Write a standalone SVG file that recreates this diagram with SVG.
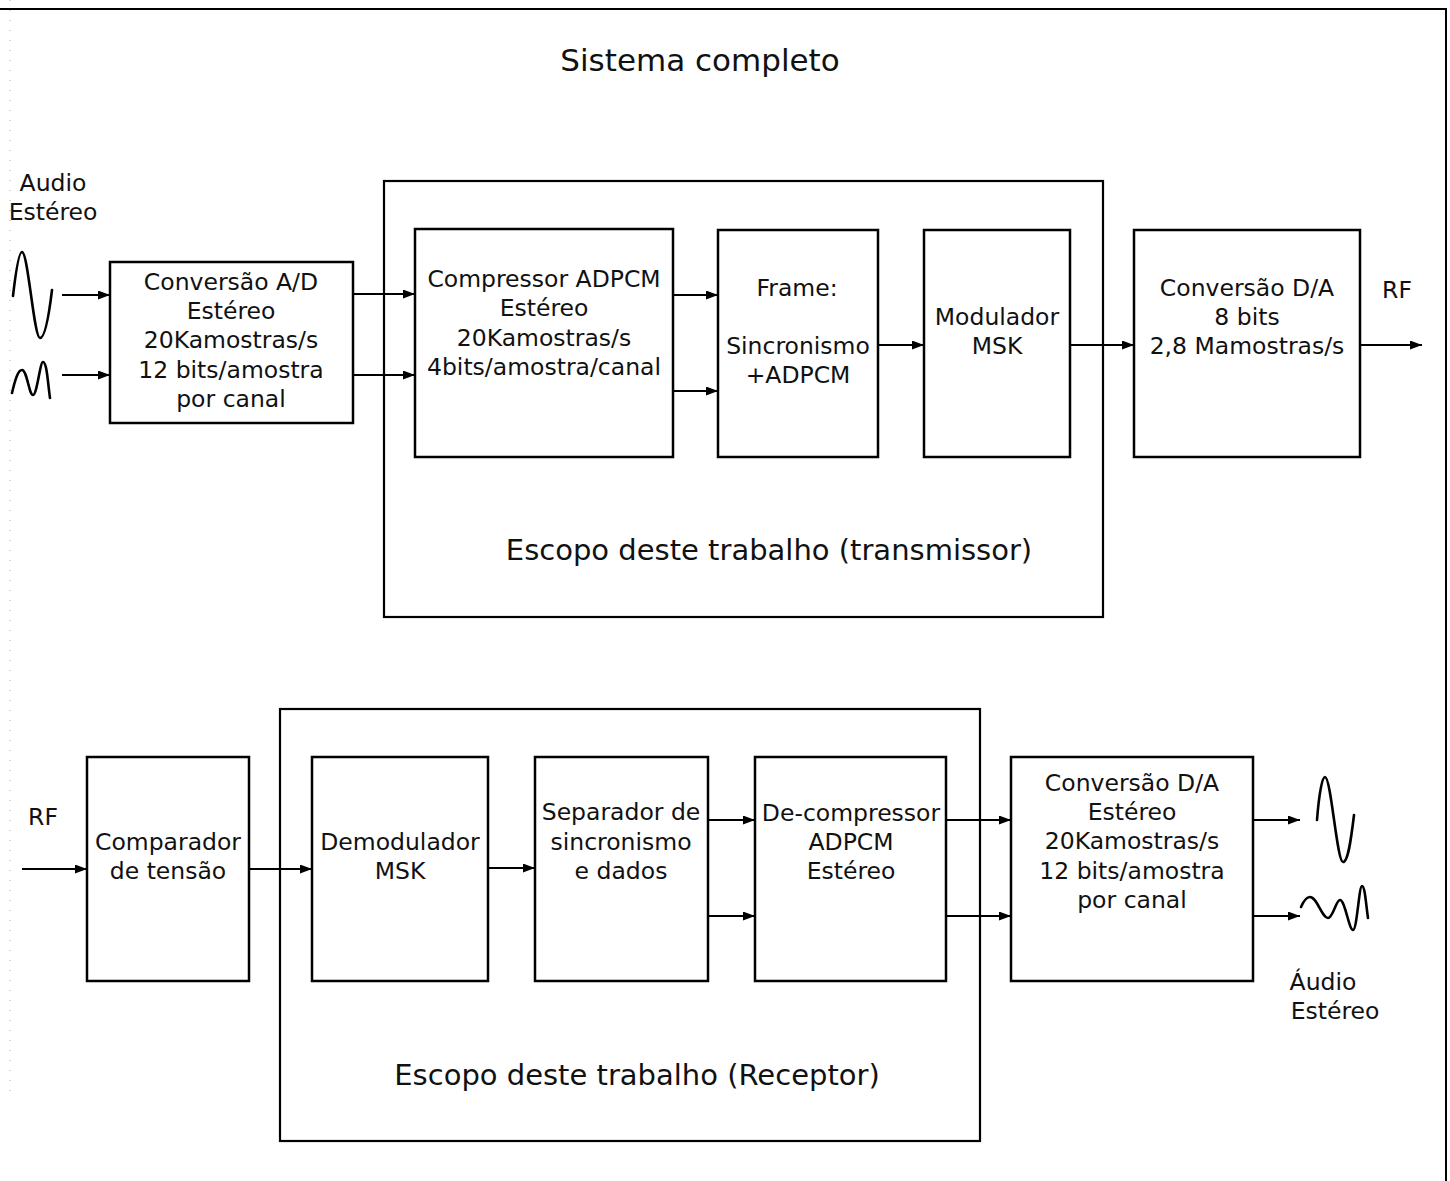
<svg xmlns="http://www.w3.org/2000/svg" width="1450" height="1181" viewBox="0 0 1450 1181">
  <style>
    .box { fill: none; stroke: #000; stroke-width: 2.5; }
    .frame { fill: none; stroke: #000; stroke-width: 2.2; }
    .wire { fill: none; stroke: #000; stroke-width: 2; marker-end: url(#arrow); }
    .wave { fill: none; stroke: #000; stroke-width: 2.6; stroke-linecap: round; stroke-linejoin: round; }
    text { font-family: "DejaVu Sans", Verdana, sans-serif; font-size: 23.5px; fill: #111; text-anchor: middle; }
    .title { font-size: 31px; }
    .scope { font-size: 29px; }
  </style>
  <defs>
    <marker id="arrow" markerUnits="userSpaceOnUse" markerWidth="13" markerHeight="10" refX="12" refY="4.5" orient="auto">
      <path d="M0,0 L12,4.5 L0,9 z" fill="#000"/>
    </marker>
  </defs>

  <rect width="1450" height="1181" fill="#fff"/>

  <!-- outer page frame -->
  <path d="M0,9 L1446,9 L1446,1181" fill="none" stroke="#000" stroke-width="2"/>
  <line x1="10" y1="0" x2="10" y2="1100" stroke="#aaa" stroke-width="1" stroke-dasharray="1,9"/>

  <text class="title" x="700" y="71">Sistema completo</text>

  <!-- ===== transmitter chain ===== -->
  <g id="audio-in">
    <text x="53" y="191">Audio</text>
    <text x="53" y="220">Estéreo</text>
    <path class="wave" d="M13,296 C16,270 19,252 22,252 C28,252 34,338 40,338 C45,338 49,315 52,290"/>
    <path class="wave" d="M12,393 C15,380 18,370 22,370 C27,370 29,395 33,395 C37,395 40,362 43,362 C47,362 48,385 50,398"/>
  </g>

  <g id="ad-converter">
    <rect class="box" x="110" y="262" width="243" height="161"/>
    <text x="231" y="290">Conversão A/D</text>
    <text x="231" y="319">Estéreo</text>
    <text x="231" y="348">20Kamostras/s</text>
    <text x="231" y="378">12 bits/amostra</text>
    <text x="231" y="407">por canal</text>
  </g>

  <g id="scope-tx">
    <rect class="frame" x="384" y="181" width="719" height="436"/>
    <text class="scope" x="769" y="560">Escopo deste trabalho (transmissor)</text>
  </g>

  <g id="adpcm-compressor">
    <rect class="box" x="415" y="229" width="258" height="228"/>
    <text x="544" y="287">Compressor ADPCM</text>
    <text x="544" y="316">Estéreo</text>
    <text x="544" y="346">20Kamostras/s</text>
    <text x="544" y="375">4bits/amostra/canal</text>
  </g>

  <g id="frame-builder">
    <rect class="box" x="718" y="230" width="160" height="227"/>
    <text x="797" y="296">Frame:</text>
    <text x="798" y="354">Sincronismo</text>
    <text x="798" y="383">+ADPCM</text>
  </g>

  <g id="msk-modulator">
    <rect class="box" x="924" y="230" width="146" height="227"/>
    <text x="997" y="325">Modulador</text>
    <text x="997" y="354">MSK</text>
  </g>

  <g id="da-rf">
    <rect class="box" x="1134" y="230" width="226" height="227"/>
    <text x="1247" y="296">Conversão D/A</text>
    <text x="1247" y="325">8 bits</text>
    <text x="1247" y="354">2,8 Mamostras/s</text>
  </g>

  <g id="rf-out">
    <text x="1397" y="298">RF</text>
  </g>

  <!-- ===== receiver chain ===== -->
  <g id="rf-in">
    <text x="43" y="825">RF</text>
  </g>

  <g id="scope-rx">
    <rect class="frame" x="280" y="709" width="700" height="432"/>
    <text class="scope" x="637" y="1085">Escopo deste trabalho (Receptor)</text>
  </g>

  <g id="comparator">
    <rect class="box" x="87" y="757" width="162" height="224"/>
    <text x="168" y="850">Comparador</text>
    <text x="168" y="879">de tensão</text>
  </g>

  <g id="msk-demodulator">
    <rect class="box" x="312" y="757" width="176" height="224"/>
    <text x="400" y="850">Demodulador</text>
    <text x="400" y="879">MSK</text>
  </g>

  <g id="sync-separator">
    <rect class="box" x="535" y="757" width="173" height="224"/>
    <text x="621" y="820">Separador de</text>
    <text x="621" y="850">sincronismo</text>
    <text x="621" y="879">e dados</text>
  </g>

  <g id="adpcm-decompressor">
    <rect class="box" x="755" y="757" width="191" height="224"/>
    <text x="851" y="821">De-compressor</text>
    <text x="851" y="850">ADPCM</text>
    <text x="851" y="879">Estéreo</text>
  </g>

  <g id="da-audio">
    <rect class="box" x="1011" y="757" width="242" height="224"/>
    <text x="1132" y="791">Conversão D/A</text>
    <text x="1132" y="820">Estéreo</text>
    <text x="1132" y="849">20Kamostras/s</text>
    <text x="1132" y="879">12 bits/amostra</text>
    <text x="1132" y="908">por canal</text>
  </g>

  <g id="audio-out">
    <path class="wave" d="M1317,820 C1319,795 1322,777 1325,777 C1331,777 1337,862 1343,862 C1348,862 1351,840 1354,815"/>
    <path class="wave" d="M1301,907 C1304,900 1307,897 1310,897 C1317,897 1322,918 1328,918 C1333,918 1336,900 1340,900 C1345,900 1349,930 1353,930 C1357,930 1359,886 1362,886 C1365,886 1366,905 1368,918"/>
    <text x="1323" y="990">Áudio</text>
    <text x="1335" y="1019">Estéreo</text>
  </g>

  <!-- ===== connectors ===== -->
  <g id="connectors">
    <line class="wire" x1="62" y1="295" x2="110" y2="295"/>
    <line class="wire" x1="62" y1="375" x2="110" y2="375"/>
    <line class="wire" x1="353" y1="294" x2="415" y2="294"/>
    <line class="wire" x1="353" y1="375" x2="415" y2="375"/>
    <line class="wire" x1="673" y1="295" x2="718" y2="295"/>
    <line class="wire" x1="673" y1="391" x2="718" y2="391"/>
    <line class="wire" x1="878" y1="345" x2="924" y2="345"/>
    <line class="wire" x1="1070" y1="345" x2="1134" y2="345"/>
    <line class="wire" x1="1360" y1="345" x2="1422" y2="345"/>

    <line class="wire" x1="22" y1="869" x2="87" y2="869"/>
    <line class="wire" x1="249" y1="869" x2="312" y2="869"/>
    <line class="wire" x1="488" y1="868" x2="535" y2="868"/>
    <line class="wire" x1="708" y1="820" x2="755" y2="820"/>
    <line class="wire" x1="708" y1="916" x2="755" y2="916"/>
    <line class="wire" x1="946" y1="820" x2="1011" y2="820"/>
    <line class="wire" x1="946" y1="916" x2="1011" y2="916"/>
    <line class="wire" x1="1253" y1="820" x2="1300" y2="820"/>
    <line class="wire" x1="1253" y1="916" x2="1300" y2="916"/>
  </g>
</svg>
